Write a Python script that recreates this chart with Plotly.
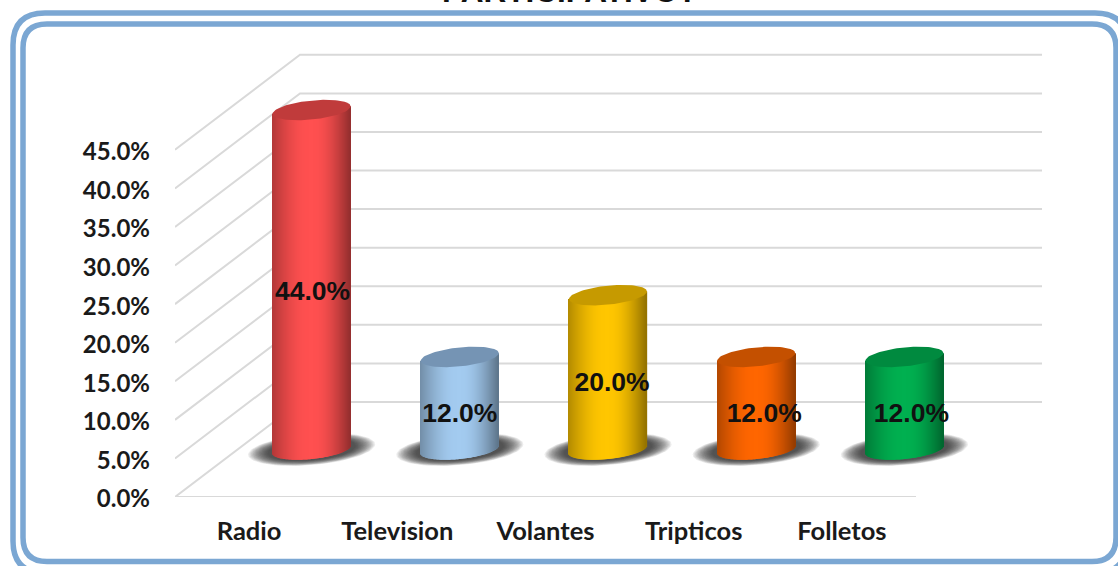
import numpy as np
import plotly.graph_objects as go

categories = ["Radio", "Television", "Volantes", "Tripticos", "Folletos"]
values = [44.0, 12.0, 20.0, 12.0, 12.0]
tick_values = [0, 5, 10, 15, 20, 25, 30, 35, 40, 45]
tick_labels = ["0.0%", "5.0%", "10.0%", "15.0%", "20.0%", "25.0%", "30.0%", "35.0%", "40.0%", "45.0%"]
body_colors = [(255, 80, 80), (163, 203, 240), (255, 198, 0), (255, 102, 0), (0, 176, 80)]
top_colors = ["#C03B3B", "#7594B4", "#C69A00", "#C45000", "#008A3F"]
label_shift_x = [1, 0, 4, 8, 7]
label_shift_y = [14, 12, 12, 12, 12]
title_text = "PARTICIPATIVO?"

W, H = 1118, 566
PLOT_L, PLOT_B = 175, 497
PX_PER_PCT = 7.715
PX_PER_CAT = 148.2
DEPTH_X, DEPTH_Y = 125, 95
WALL_RIGHT = 1042


def cat_dx(px):
    return px / PX_PER_CAT


def pct_dy(px):
    return px / PX_PER_PCT


x_min = -0.5
x_max = x_min + (W - PLOT_L) / PX_PER_CAT
y_max = PLOT_B / PX_PER_PCT
depth_x = cat_dx(DEPTH_X)
depth_y = pct_dy(DEPTH_Y)
wall_end = x_min + (WALL_RIGHT - PLOT_L) / PX_PER_CAT

fig = go.Figure()

# floor line and oblique/back gridlines (main subplot, underneath)
grid = dict(mode="lines", line=dict(color="#D9D9D9", width=2), hoverinfo="skip", showlegend=False, cliponaxis=False)
fig.add_trace(go.Scatter(x=[x_min, len(categories) - 0.5], y=[0, 0], **grid))
for v in tick_values:
    fig.add_trace(go.Scatter(
        x=[x_min, x_min + depth_x, wall_end],
        y=[v, v + depth_y, v + depth_y], **grid))

semi_a, semi_b, tilt = 39, 9.5, 3.8
strip_px = 1.0
theta = np.linspace(0, 2 * np.pi, 90)

for i, (val, body, top) in enumerate(zip(values, body_colors, top_colors)):
    cx = i + depth_x / 2
    base_y = depth_y / 2

    # soft shadow on the floor
    for scale in np.linspace(1.04, 0.72, 16):
        fig.add_trace(go.Scatter(
            x=cx + cat_dx(61 * scale) * np.cos(theta),
            y=base_y + pct_dy(5 * scale * np.cos(theta) + 15 * scale * np.sin(theta)),
            mode="lines", fill="toself", line=dict(width=0),
            fillcolor="rgba(30,30,30,0.085)", hoverinfo="skip", showlegend=False))

    # cylinder body as thin gradient strips (overlay subplot, above grid and shadows)
    offsets = np.arange(-semi_a + strip_px / 2, semi_a, strip_px)
    u = offsets / semi_a
    shade_l = 0.70 + 0.30 * np.sin(np.clip((u + 1) / 0.95, 0, 1) * np.pi / 2)
    shade_r = 0.58 + 0.42 * np.sin(np.clip((1 - u) / 0.95, 0, 1) * np.pi / 2)
    shade = np.where(u < 0, shade_l, shade_r)
    colors = [f"rgb({int(body[0]*s)},{int(body[1]*s)},{int(body[2]*s)})" for s in shade]
    bottoms = base_y - pct_dy(semi_b * np.sqrt(1 - u ** 2)) + pct_dy(tilt * u)
    tops = base_y + val + pct_dy(tilt * u)
    fig.add_trace(go.Bar(
        x=cx + cat_dx(offsets), y=tops - bottoms, base=bottoms,
        width=cat_dx(strip_px * 1.35), marker=dict(color=colors, line=dict(width=0)),
        xaxis="x2", yaxis="y2", hoverinfo="skip", showlegend=False))

    # top ellipse
    fig.add_trace(go.Scatter(
        x=cx + cat_dx(semi_a) * np.cos(theta),
        y=base_y + val + pct_dy(tilt * np.cos(theta) + semi_b * np.sin(theta)),
        mode="lines", fill="toself", line=dict(width=0), fillcolor=top,
        xaxis="x2", yaxis="y2", hoverinfo="skip", showlegend=False))

# data labels
fig.add_trace(go.Scatter(
    x=[i + depth_x / 2 + cat_dx(dx) for i, dx in enumerate(label_shift_x)],
    y=[depth_y / 2 + v / 2 - pct_dy(dy) for v, dy in zip(values, label_shift_y)],
    mode="text", text=[f"{v:.1f}%" for v in values],
    textposition="middle center",
    textfont=dict(family="Liberation Sans", size=26.5, color="#111111", weight="bold"),
    xaxis="x2", yaxis="y2", hoverinfo="skip", showlegend=False))


def px(x):
    return (x - PLOT_L) / (W - PLOT_L)


def py(y):
    return (PLOT_B - y) / PLOT_B


def round_rect(l, t, r, b, rad):
    return (
        f"M {px(l+rad)},{py(t)} L {px(r-rad)},{py(t)} Q {px(r)},{py(t)} {px(r)},{py(t+rad)} "
        f"L {px(r)},{py(b-rad)} Q {px(r)},{py(b)} {px(r-rad)},{py(b)} "
        f"L {px(l+rad)},{py(b)} Q {px(l)},{py(b)} {px(l)},{py(b-rad)} "
        f"L {px(l)},{py(t+rad)} Q {px(l)},{py(t)} {px(l+rad)},{py(t)} Z"
    )


shapes = [
    dict(type="path", xref="paper", yref="paper", layer="below",
         path=round_rect(*box), line=dict(color="#7BA7D3", width=5.5), fillcolor="rgba(0,0,0,0)")
    for box in [(13, 13, 1127, 573, 32), (23, 24, 1116, 561.5, 24)]
]

fig.update_layout(
    width=W, height=H,
    margin=dict(l=PLOT_L, r=0, t=0, b=H - PLOT_B, pad=0),
    paper_bgcolor="white", plot_bgcolor="rgba(0,0,0,0)",
    barmode="overlay", hovermode=False, showlegend=False,
    shapes=shapes,
    xaxis=dict(
        range=[x_min, x_max], tickmode="array", tickvals=list(range(len(categories))),
        ticktext=categories, showgrid=False, zeroline=False, showline=False, ticks="",
        ticklabelstandoff=16, tickfont=dict(family="Lato", size=25.5, color="#1A1A1A", weight="bold"),
    ),
    yaxis=dict(
        range=[0, y_max], tickmode="array", tickvals=tick_values,
        ticktext=tick_labels, showgrid=False, zeroline=False, showline=False, ticks="",
        ticklabelstandoff=24, ticklabelshift=2,
        tickfont=dict(family="Lato", size=24, color="#1A1A1A", weight="bold"),
    ),
    xaxis2=dict(range=[x_min, x_max], overlaying="x", visible=False),
    yaxis2=dict(range=[0, y_max], overlaying="y", visible=False),
    annotations=[dict(
        text=title_text, xref="paper", yref="paper", x=(570 - PLOT_L) / (W - PLOT_L), y=1,
        xanchor="center", yanchor="bottom", yshift=-11, showarrow=False,
        font=dict(family="Liberation Sans", size=31.5, color="#111111", weight="bold"),
    )],
)

fig.write_html("out.html", post_script="document.body.style.margin='0';document.body.style.overflow='hidden';",
               config=dict(displayModeBar=False))
